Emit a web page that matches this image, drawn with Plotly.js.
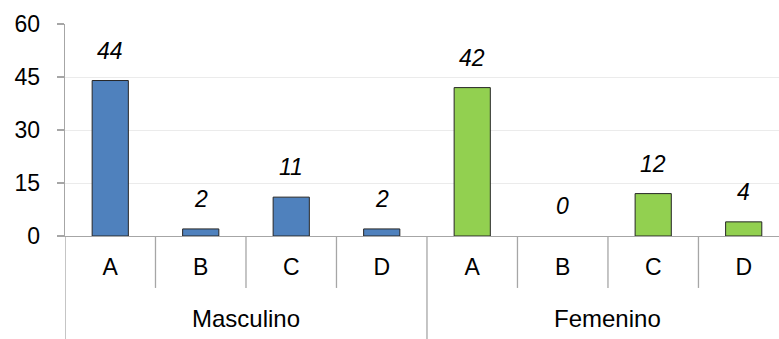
<!DOCTYPE html>
<html>
<head>
<meta charset="utf-8">
<script src="https://cdn.plot.ly/plotly-3.0.1.min.js"></script>
<style>html,body{margin:0;padding:0;background:#fff;overflow:hidden}#chart{width:779px;height:339px}</style>
</head>
<body>
<div id="chart"></div>
<script>
var categories = ["A", "B", "C", "D"];
var groups = ["Masculino", "Femenino"];
var masculino = [44, 2, 11, 2];
var femenino = [42, 0, 12, 4];
var yTicks = [0, 15, 30, 45, 60];

var seriesValues = [masculino, femenino];
var colors = ["#4F81BD", "#92D050"];
var n = categories.length;

var traces = [];
var annotations = [];
var tickvals = [], ticktext = [];
var shapes = [];
var FONT = "Liberation Sans, Arial, sans-serif";

groups.forEach(function (g, gi) {
  var xs = categories.map(function (c, ci) { return gi * n + ci; });
  traces.push({
    type: "bar",
    x: xs,
    y: seriesValues[gi],
    width: 0.4,
    marker: {
      color: colors[gi],
      line: { color: "#262626", width: seriesValues[gi].map(function (v) { return v > 0 ? 1 : 0; }) }
    },
    hoverinfo: "skip",
    showlegend: false
  });
  xs.forEach(function (x, ci) {
    tickvals.push(x);
    ticktext.push(categories[ci]);
    annotations.push({
      x: x, y: seriesValues[gi][ci], xref: "x", yref: "y",
      text: "<i>" + seriesValues[gi][ci] + "</i>",
      showarrow: false, yanchor: "bottom", yshift: 15,
      font: { family: FONT, size: 23, color: "#000" }
    });
  });
  annotations.push({
    x: gi * n + (n - 1) / 2, y: -0.39, xref: "x", yref: "paper",
    text: g, showarrow: false, yanchor: "middle",
    font: { family: FONT, size: 24, color: "#000" }
  });
});

var total = groups.length * n;
for (var i = 1; i < total; i++) {
  var longDiv = (i % n === 0);
  shapes.push({
    type: "line", xref: "x", yref: "paper",
    x0: i - 0.5, x1: i - 0.5, y0: 0, y1: longDiv ? -0.49 : -0.245,
    line: { color: "#A6A6A6", width: 1.3 }
  });
}
shapes.push({
  type: "line", xref: "x", yref: "paper",
  x0: -0.5, x1: -0.5, y0: 0, y1: -0.49,
  line: { color: "#A6A6A6", width: 1.3 }
});

var layout = {
  width: 779, height: 339,
  margin: { l: 65, r: 0, t: 24, b: 103 },
  paper_bgcolor: "#fff", plot_bgcolor: "#fff",
  bargap: 0,
  xaxis: {
    type: "linear", range: [-0.5, 7.39],
    tickvals: tickvals, ticktext: ticktext,
    ticks: "", showgrid: false, zeroline: false,
    showline: true, linecolor: "#A6A6A6", linewidth: 1.3,
    tickfont: { family: FONT, size: 23, color: "#000" },
    ticklabelstandoff: 10
  },
  yaxis: {
    range: [0, 60], tickvals: yTicks,
    showgrid: true, gridcolor: "#EBEBEB", gridwidth: 1,
    zeroline: false, showline: true, linecolor: "#A6A6A6", linewidth: 1.3,
    ticks: "outside", ticklen: 7, tickcolor: "#A6A6A6", tickwidth: 1.3,
    tickfont: { family: FONT, size: 23, color: "#000" },
    ticklabelstandoff: 12
  },
  shapes: shapes,
  annotations: annotations
};

Plotly.newPlot("chart", traces, layout, { displayModeBar: false, staticPlot: true });
</script>
</body>
</html>
